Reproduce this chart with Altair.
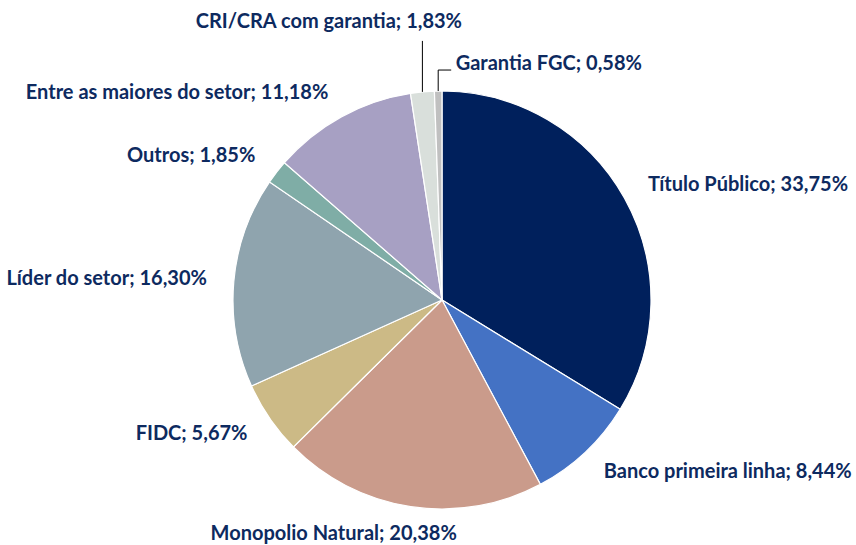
import math
import altair as alt
import pandas as pd

# ---- data ----
categories = ["Título Público", "Banco primeira linha", "Monopolio Natural", "FIDC",
              "Líder do setor", "Outros", "Entre as maiores do setor",
              "CRI/CRA com garantia", "Garantia FGC"]
values = [33.75, 8.44, 20.38, 5.67, 16.30, 1.85, 11.18, 1.83, 0.58]
value_labels = ["33,75%", "8,44%", "20,38%", "5,67%", "16,30%", "1,85%", "11,18%", "1,83%", "0,58%"]
colors = ["#00205C", "#4472C4", "#CA9B8B", "#CCBA86", "#8FA4AE", "#7FADA6", "#A7A0C3", "#D9DFDB", "#C0C0C0"]

# ---- layout / style ----
CX, CY, R = 442, 300, 209
LABEL_R = 236
TEXT_COLOR = "#0D2A60"
FONT = "Lato"
FSIZE = 20
# label nudges (pixels) and alignment overrides for crowded labels
nudge = {
    "Monopolio Natural": (-73, 1, "center"),
    "CRI/CRA com garantia": (-91, -43, "center"),
    "Garantia FGC": (18, 0, "left"),
}
leader_cats = {"CRI/CRA com garantia": "vertical", "Garantia FGC": "elbow"}

total = sum(values)
rows, lab_rows, lines = [], [], []
cum = 0.0
for i, (c, v, vl) in enumerate(zip(categories, values, value_labels)):
    mid = (cum + v / 2) / total * 2 * math.pi
    cum += v
    rows.append({"cat": c, "value": v, "order": i})
    ax = CX + LABEL_R * math.sin(mid)
    ay = CY - LABEL_R * math.cos(mid)
    align = "left" if math.sin(mid) > 0 else "right"
    if c in nudge:
        dx, dy, align = nudge[c]
        ax += dx
        ay += dy
    lab_rows.append({"cat": c, "text": f"{c}; {vl}", "x": ax, "y": ay, "align": align})
    if c in leader_cats:
        ex = CX + R * math.sin(mid)
        ey = CY - R * math.cos(mid)
        if leader_cats[c] == "vertical":
            lines.append({"x": ex, "y": ey, "x2": ex, "y2": ey - 51})
        else:
            lines.append({"x": ex, "y": ey, "x2": ex, "y2": ey - 21})
            lines.append({"x": ex, "y": ey - 21, "x2": ex + 13, "y2": ey - 21})

df = pd.DataFrame(rows)
lab = pd.DataFrame(lab_rows)
ln = pd.DataFrame(lines)

pie = alt.Chart(df).mark_arc(outerRadius=R, stroke="white", strokeWidth=1.2).encode(
    theta=alt.Theta("value:Q", stack=True),
    order=alt.Order("order:Q"),
    color=alt.Color("cat:N", scale=alt.Scale(domain=categories, range=colors), legend=None),
    x=alt.value(CX),
    y=alt.value(CY),
)

text_layers = []
for al in ["left", "right", "center"]:
    sub = lab[lab["align"] == al]
    if len(sub) == 0:
        continue
    text_layers.append(
        alt.Chart(sub).mark_text(align=al, baseline="middle", font=FONT, fontSize=FSIZE,
                                 fontWeight="bold", color=TEXT_COLOR).encode(
            x=alt.X("x:Q", scale=None),
            y=alt.Y("y:Q", scale=None),
            text="text:N",
        )
    )

leaders = alt.Chart(ln).mark_rule(color="black", strokeWidth=1).encode(
    x=alt.X("x:Q", scale=None), y=alt.Y("y:Q", scale=None),
    x2="x2:Q", y2="y2:Q",
)

chart = alt.layer(pie, leaders, *text_layers).resolve_scale(theta="independent").properties(
    width=856, height=545, autosize=alt.AutoSizeParams(type="none"), padding=0,
    background="white",
).configure_view(stroke=None)

chart.save("out.html", embed_options={"renderer": "svg", "actions": False})
